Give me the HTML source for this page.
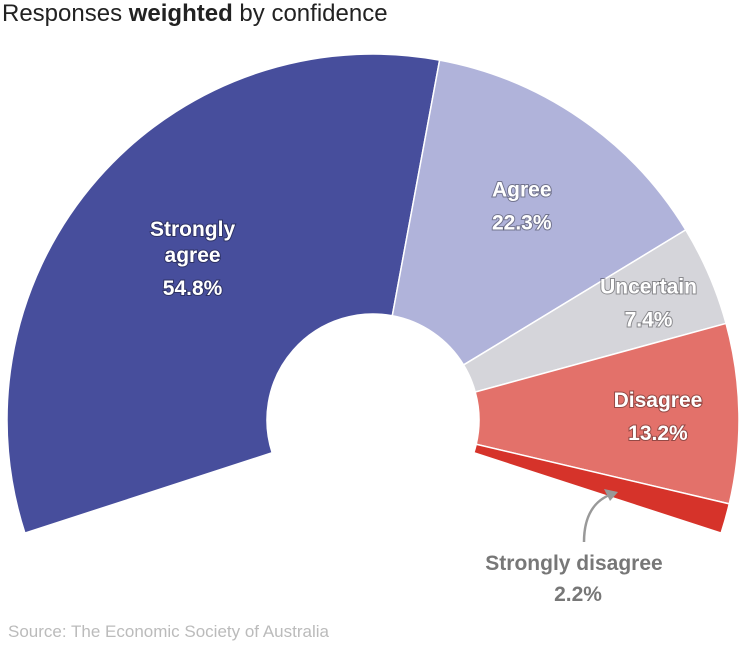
<!DOCTYPE html>
<html><head><meta charset="utf-8"><style>
body{margin:0;background:#fff;font-family:"Liberation Sans",sans-serif}
#wrap{position:relative;width:754px;height:653px;overflow:hidden}
.title{position:absolute;left:2px;top:0px;font-size:24px;color:#222}
.src{position:absolute;left:8px;top:622px;font-size:17px;color:#bbb}
</style></head><body>
<div id="wrap">
<div class="title">Responses <b>weighted</b> by confidence</div>
<svg id="svg" width="754" height="653" style="position:absolute;left:0;top:0"></svg>
<div class="src">Source: The Economic Society of Australia</div>
</div>
<script>
const categories=["Strongly agree","Agree","Uncertain","Disagree","Strongly disagree"];
const values=[54.8,22.3,7.4,13.2,2.2];
const colors=["#474e9c","#b0b3da","#d5d5da","#e3716a","#d6332a"];
const cx=373,cy=420,r0=106,r1=366,startDeg=162,spanDeg=216;
const svg=document.getElementById('svg');
const NS='http://www.w3.org/2000/svg';
const total=values.reduce((a,b)=>a+b,0);
function pt(deg,r){const a=deg*Math.PI/180;return [cx+r*Math.cos(a),cy+r*Math.sin(a)];}
let a=startDeg;
const mids=[];
values.forEach((v,i)=>{
 const s=a,e=a+v/total*spanDeg;a=e;mids.push((s+e)/2);
 const p1=pt(s,r1),p2=pt(e,r1),p3=pt(e,r0),p4=pt(s,r0);
 const large=(e-s)>180?1:0;
 const p=document.createElementNS(NS,'path');
 p.setAttribute('d',`M${p1} A${r1},${r1} 0 ${large} 1 ${p2} L${p3} A${r0},${r0} 0 ${large} 0 ${p4}Z`);
 p.setAttribute('fill',colors[i]);p.setAttribute('stroke','#fff');p.setAttribute('stroke-width','1.5');
 
 
 svg.appendChild(p);
});
const lr=[240,262,300,285];
function txt(x,y,s,fill,size,name){
 const t=document.createElementNS(NS,'text');
 t.setAttribute('x',x);t.setAttribute('y',y);t.setAttribute('text-anchor','middle');
 t.setAttribute('font-size',size);t.setAttribute('font-weight','bold');t.setAttribute('fill',fill);
 t.setAttribute('font-family','Liberation Sans, sans-serif');
 if(fill==='#fff'){t.setAttribute('stroke','rgba(0,0,0,0.35)');t.setAttribute('stroke-width','2');t.setAttribute('paint-order','stroke');}
 t.textContent=s;
 
 
 svg.appendChild(t);
}
for(let i=0;i<4;i++){
 const [x,y]=pt(mids[i],lr[i]);
 const slug=categories[i].toLowerCase().replace(/ /g,'-');
 if(i===0){txt(x,y-26,'Strongly','#fff',21,'label-'+slug);txt(x,y,'agree','#fff',21,'label-'+slug+'-2');txt(x,y+33,values[i].toFixed(1)+'%','#fff',21,'value-'+slug);}
 else{txt(x,y-8,categories[i],'#fff',21,'label-'+slug);txt(x,y+25,values[i].toFixed(1)+'%','#fff',21,'value-'+slug);}
}
txt(574,570,'Strongly disagree','#777',21,'label-strongly-disagree');
txt(578,601,values[4].toFixed(1)+'%','#777',21,'value-strongly-disagree');
const arr=document.createElementNS(NS,'path');
arr.setAttribute('d','M584,542 C584,515 595,500 612,494');
arr.setAttribute('fill','none');arr.setAttribute('stroke','#999');arr.setAttribute('stroke-width','2.5');

svg.appendChild(arr);
const hd=document.createElementNS(NS,'path');
hd.setAttribute('d','M618,492 L604,489 L610,501Z');hd.setAttribute('fill','#999');

svg.appendChild(hd);
</script>
</body></html>
